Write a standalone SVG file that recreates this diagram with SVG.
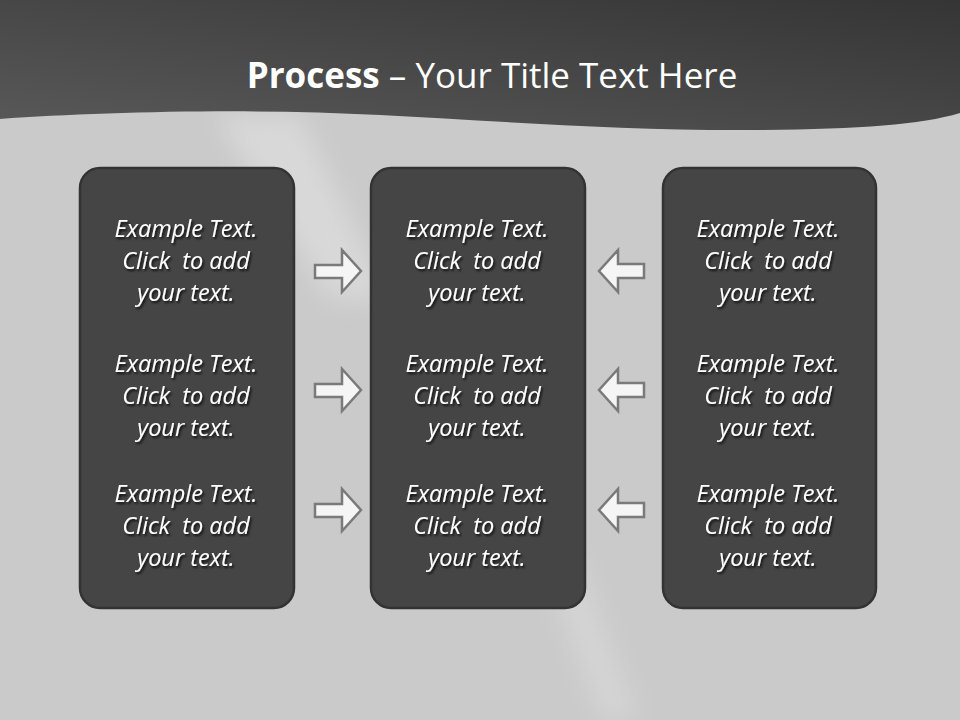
<svg xmlns="http://www.w3.org/2000/svg" width="960" height="720" viewBox="0 0 960 720">
<defs>
<linearGradient id="hdr" x1="0" y1="1" x2="1" y2="0">
<stop offset="0" stop-color="#595959"/>
<stop offset="1" stop-color="#353535"/>
</linearGradient>
<filter id="ts" x="-10%" y="-30%" width="130%" height="170%">
<feDropShadow dx="1.5" dy="2" stdDeviation="1.2" flood-color="#000" flood-opacity="0.8"/>
</filter>
<filter id="blur" x="-50%" y="-50%" width="200%" height="200%">
<feGaussianBlur stdDeviation="12"/>
</filter>
</defs>
<style>
.box{fill:#454545;stroke:#333333;stroke-width:2.5}
.t{font-family:"Open Sans","Liberation Sans",sans-serif;font-style:italic;font-size:23.5px;fill:#ffffff;text-anchor:middle;white-space:pre}
.arr{fill:#f5f5f5;stroke:#7a7a7a;stroke-width:2.5;stroke-linejoin:miter}
.title{font-family:"Open Sans","Liberation Sans",sans-serif;font-size:35px;fill:#ffffff}
</style>
<rect width="960" height="720" fill="#cacaca"/>
<g filter="url(#blur)" opacity="0.5">
<polygon points="215,115 300,115 390,300 330,300" fill="#e6e6e6"/>
<polygon points="540,560 580,560 640,720 600,720" fill="#dedede"/>
</g>
<path d="M0,0 H960 V113 C920,125 860,129 760,130 C620,131 500,121 380,115 C250,108 100,112 0,119 Z" fill="url(#hdr)"/>
<g id="title">
<text class="title" x="492" y="88" text-anchor="middle"><tspan font-weight="bold">Process</tspan> – Your Title Text Here</text>
</g>
<g id="box-left">
<rect class="box" x="80" y="168" width="214" height="440" rx="20"/>
<g filter="url(#ts)">
<text class="t" x="186" y="237">Example Text.</text><text class="t" x="186" y="269">Click  to add</text><text class="t" x="186" y="301">your text.</text>
<text class="t" x="186" y="372">Example Text.</text><text class="t" x="186" y="404">Click  to add</text><text class="t" x="186" y="436">your text.</text>
<text class="t" x="186" y="502">Example Text.</text><text class="t" x="186" y="534">Click  to add</text><text class="t" x="186" y="566">your text.</text>
</g>
</g>
<g id="box-middle">
<rect class="box" x="371" y="168" width="214" height="440" rx="20"/>
<g filter="url(#ts)">
<text class="t" x="477" y="237">Example Text.</text><text class="t" x="477" y="269">Click  to add</text><text class="t" x="477" y="301">your text.</text>
<text class="t" x="477" y="372">Example Text.</text><text class="t" x="477" y="404">Click  to add</text><text class="t" x="477" y="436">your text.</text>
<text class="t" x="477" y="502">Example Text.</text><text class="t" x="477" y="534">Click  to add</text><text class="t" x="477" y="566">your text.</text>
</g>
</g>
<g id="box-right">
<rect class="box" x="663" y="168" width="213" height="440" rx="20"/>
<g filter="url(#ts)">
<text class="t" x="768" y="237">Example Text.</text><text class="t" x="768" y="269">Click  to add</text><text class="t" x="768" y="301">your text.</text>
<text class="t" x="768" y="372">Example Text.</text><text class="t" x="768" y="404">Click  to add</text><text class="t" x="768" y="436">your text.</text>
<text class="t" x="768" y="502">Example Text.</text><text class="t" x="768" y="534">Click  to add</text><text class="t" x="768" y="566">your text.</text>
</g>
</g>
<g id="connectors">
<polygon class="arr" points="315,265 342,265 342,250 361,271 342,292 342,278 315,278"/>
<polygon class="arr" points="315,384 342,384 342,369 361,390 342,411 342,397 315,397"/>
<polygon class="arr" points="315,504 342,504 342,489 361,510 342,531 342,517 315,517"/>
<polygon class="arr" points="644,264 618,264 618,250 599,271 618,292 618,278 644,278"/>
<polygon class="arr" points="644,383 618,383 618,369 599,390 618,411 618,397 644,397"/>
<polygon class="arr" points="644,503 618,503 618,489 599,510 618,531 618,517 644,517"/>
</g>
</svg>
